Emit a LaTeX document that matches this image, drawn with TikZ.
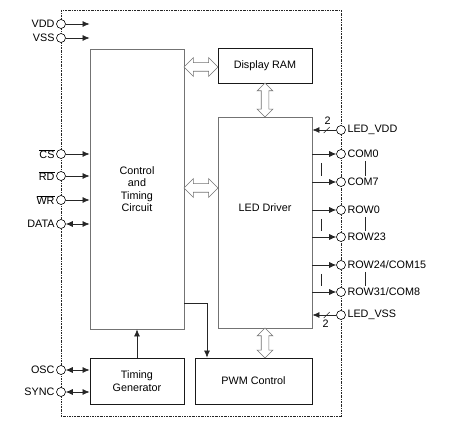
\documentclass[tikz,border=0pt]{standalone}
\usepackage{fontspec}
\setmainfont{Liberation Sans}
\usetikzlibrary{shapes.arrows,arrows.meta,calc}
\begin{document}
\begin{tikzpicture}[x=1pt,y=-1pt,
  font=\fontsize{10.8}{12.5}\selectfont,
  border/.style={draw=black!85, line width=0.7pt, dash pattern=on 2pt off 1pt on 0.6pt off 1pt},
  greybox/.style={draw=black!55, line width=0.8pt, fill=white, inner sep=0pt, align=center},
  blackbox/.style={draw=black!90, line width=0.8pt, fill=white, inner sep=0pt, align=center},
  pin/.style={circle, draw=black, fill=white, line width=0.6pt, minimum size=9pt, inner sep=0pt},
  arr/.style={draw=black!85, line width=0.7pt, -{Latex[length=7pt,width=6pt]}},
  darr/.style={draw=black!85, line width=0.7pt, {Latex[length=7pt,width=6pt]}-{Latex[length=7pt,width=6pt]}},
  hollow/.style={shape=double arrow, draw=black!55, fill=white, line width=0.7pt,
     inner xsep=0pt, inner ysep=4pt, double arrow head extend=5pt, double arrow tip angle=90},
  thin/.style={draw=black!85, line width=0.6pt}
]
\useasboundingbox (0,0) rectangle (451,425);

% outer chip border
\draw[border] (61,10) rectangle (341,416);

% blocks
\node[greybox, minimum width=94pt, minimum height=280pt] (ctl) at (137,189) {Control\\and\\Timing\\Circuit};
\node[blackbox, minimum width=94pt, minimum height=35pt] (ram) at (265,65.5) {Display RAM};
\node[greybox, minimum width=94pt, minimum height=211pt] (led) at (265,222.5) {};
\node (ledtxt) at (265,208) {LED Driver};
\node[blackbox, minimum width=94pt, minimum height=46pt] (tg) at (137,381) {Timing\\Generator};
\node[blackbox, minimum width=117pt, minimum height=46pt] (pwm) at (253.5,381) {PWM Control};

% hollow double arrows
\node[hollow, minimum height=34pt] (a1) at (201,67) {};
\node[hollow, minimum height=34pt] (a2) at (201,188) {};
\node[hollow, minimum height=34pt, rotate=90, inner ysep=3.5pt, double arrow head extend=4pt] (a3) at (265,100) {};
\node[hollow, minimum height=30pt, rotate=90, inner ysep=3.5pt, double arrow head extend=4pt] (a4) at (265,343) {};

% left pins
\node[pin, label={[inner sep=1.5pt]left:VDD}] (vdd) at (61,24) {};
\node[pin, label={[inner sep=1.5pt]left:VSS}] (vss) at (61,38) {};
\node[pin, label={[inner sep=1.5pt]left:$\overline{\mbox{CS}}$}] (cs) at (61,154) {};
\node[pin, label={[inner sep=1.5pt]left:$\overline{\mbox{RD}}$}] (rd) at (61,176) {};
\node[pin, label={[inner sep=1.5pt]left:$\overline{\mbox{WR}}$}] (wr) at (61,200) {};
\node[pin, label={[inner sep=1.5pt]left:DATA}] (data) at (61,224) {};
\node[pin, label={[inner sep=1.5pt]left:OSC}] (osc) at (61,370) {};
\node[pin, label={[inner sep=1.5pt]left:SYNC}] (sync) at (61,392) {};

\draw[arr] (vdd.east) -- (vdd -| ctl.west);
\draw[arr] (vss.east) -- (vss -| ctl.west);
\draw[arr] (cs.east) -- (cs -| ctl.west);
\draw[arr] (rd.east) -- (rd -| ctl.west);
\draw[arr] (wr.east) -- (wr -| ctl.west);
\draw[darr] (data.east) -- (data -| ctl.west);
\draw[darr] (osc.east) -- (osc -| tg.west);
\draw[darr] (sync.east) -- (sync -| tg.west);

% internal arrows
\draw[arr] (tg.north) -- (ctl.south);
\coordinate (bend) at (207,303);
\draw[arr] (ctl.east |- bend) -- (bend) -- (bend |- pwm.north);

% right pins
\node[pin, label={[inner sep=1.5pt]right:LED\_VDD}] (lvdd) at (341,130) {};
\node[pin, label={[inner sep=1.5pt]right:COM0}] (com0) at (341,154) {};
\node[pin, label={[inner sep=1.5pt]right:COM7}] (com7) at (341,182) {};
\node[pin, label={[inner sep=1.5pt]right:ROW0}] (row0) at (341,210) {};
\node[pin, label={[inner sep=1.5pt]right:ROW23}] (row23) at (341,237) {};
\node[pin, label={[inner sep=1.5pt]right:ROW24/COM15}] (r24) at (341,265) {};
\node[pin, label={[inner sep=1.5pt]right:ROW31/COM8}] (r31) at (341,292) {};
\node[pin, label={[inner sep=1.5pt]right:LED\_VSS}] (lvss) at (341,315) {};

\foreach \p in {com0,com7,row0,row23,r24,r31}
  \draw[arr] (\p -| led.east) -- (\p.west);

\draw[arr] (lvdd.west) -- (lvdd -| led.east);
\draw[arr] (lvss.west) -- (lvss -| led.east);
% bus slashes
\coordinate (s1) at ($(lvdd.west)!0.4!(lvdd -| led.east)$);
\draw[thin] ([xshift=-3pt,yshift=-3pt]s1) -- ([xshift=3pt,yshift=3pt]s1);
\node[inner sep=0pt] (n1) at ([xshift=1pt,yshift=9pt]s1) {2};
\coordinate (s2) at ($(lvss.west)!0.4!(lvss -| led.east)$);
\draw[thin] ([xshift=-3pt,yshift=-3pt]s2) -- ([xshift=3pt,yshift=3pt]s2);
\node[inner sep=0pt] (n2) at ([xshift=-1pt,yshift=-9pt]s2) {2};

% continuation marks between arrows
\draw[thin] (321,163) -- (321,176);
\draw[thin] (321,219) -- (321,231);
\draw[thin] (321,274) -- (321,286);
% continuation marks between labels
\draw[thin] (365,161) -- (365,176);
\draw[thin] (365,217) -- (365,231);
\draw[thin] (365,272) -- (365,286);
\end{tikzpicture}
\end{document}
